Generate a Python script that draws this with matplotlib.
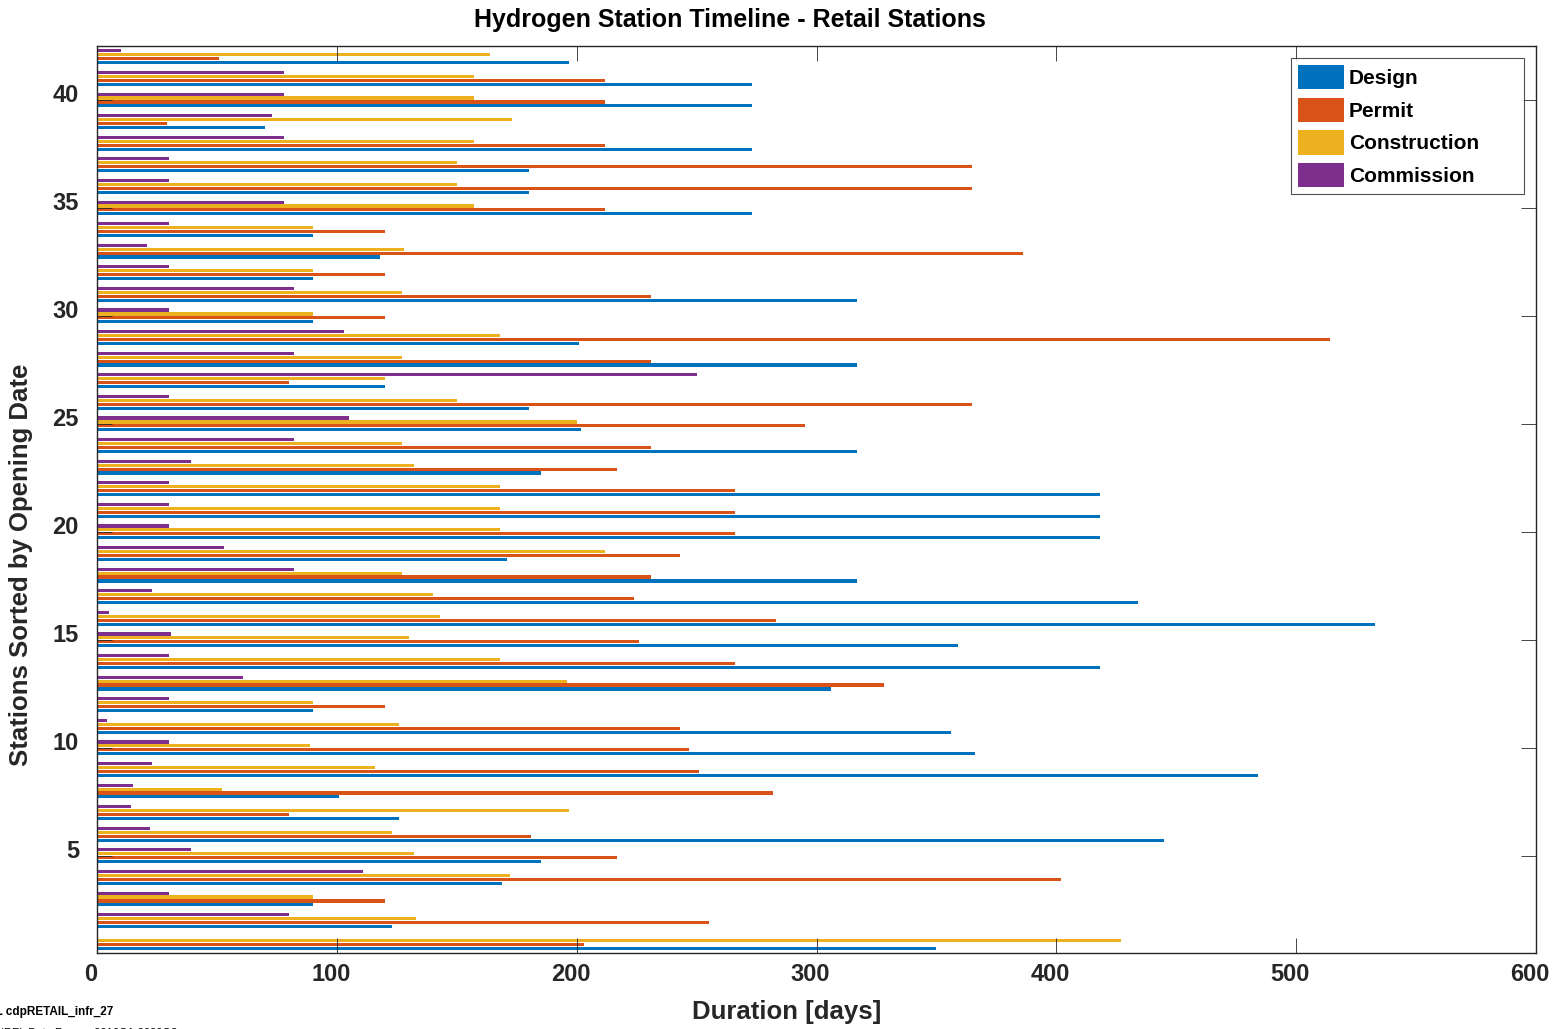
import matplotlib.pyplot as plt
import matplotlib.transforms as mtransforms
import numpy as np

plt.rcParams['font.family'] = ['Liberation Sans', 'DejaVu Sans']

# Duração de cada fase por estação (estação 1 = primeira a abrir)
estacoes = np.arange(1, 43)
design = [350, 123, 90, 169, 185, 445, 126, 101, 484, 366,
          356, 90, 306, 418, 359, 533, 434, 317, 171, 418,
          418, 418, 185, 317, 202, 180, 120, 317, 201, 90,
          317, 90, 118, 90, 273, 180, 180, 273, 70, 273,
          273, 197]
permit = [203, 255, 120, 402, 217, 181, 80, 282, 251, 247,
          243, 120, 328, 266, 226, 283, 224, 231, 243, 266,
          266, 266, 217, 231, 295, 365, 80, 231, 514, 120,
          231, 120, 386, 120, 212, 365, 365, 212, 29, 212,
          212, 51]
construction = [427, 133, 90, 172, 132, 123, 197, 52, 116, 89,
                126, 90, 196, 168, 130, 143, 140, 127, 212, 168,
                168, 168, 132, 127, 200, 150, 120, 127, 168, 90,
                127, 90, 128, 90, 157, 150, 150, 157, 173, 157,
                157, 164]
commission = [0, 80, 30, 111, 39, 22, 14, 15, 23, 30,
              4, 30, 61, 30, 31, 5, 23, 82, 53, 30,
              30, 30, 39, 82, 105, 30, 250, 82, 103, 30,
              82, 30, 21, 30, 78, 30, 30, 78, 73, 78,
              78, 10]

fases = ['Design', 'Permit', 'Construction', 'Commission']
valores = [design, permit, construction, commission]
cores = ['#0072BD', '#D95319', '#EDB120', '#7E2F8E']

fig = plt.figure(figsize=(15.59, 10.29), dpi=100)
ax = fig.add_axes([97 / 1559, 76 / 1029, 1439 / 1559, 907 / 1029])

passo = 0.182
altura = 0.145
for i, (fase, vals, cor) in enumerate(zip(fases, valores, cores)):
    ax.barh(estacoes + (i - 1.5) * passo, vals, height=altura, color=cor,
            label=fase, linewidth=0)

ax.set_xlim(0, 600)
ax.set_ylim(0.5, 42.5)
ax.set_xticks(np.arange(0, 601, 100))
ax.set_yticks(np.arange(5, 41, 5))

cinza = '#262626'
for sp in ax.spines.values():
    sp.set_color(cinza)
    sp.set_linewidth(1.0)
ax.tick_params(direction='in', length=11, width=0.6, color=cinza,
               top=True, right=True, labelsize=17, labelcolor=cinza)
ax.tick_params(axis='x', pad=7)
ax.tick_params(axis='y', pad=13)
for lab in ax.get_xticklabels() + ax.get_yticklabels():
    lab.set_fontweight('bold')
off_y = mtransforms.ScaledTranslation(0, 7 / 100, fig.dpi_scale_trans)
for lab in ax.get_yticklabels():
    lab.set_transform(lab.get_transform() + off_y)
off_x = mtransforms.ScaledTranslation(-6 / 100, 0, fig.dpi_scale_trans)
for lab in ax.get_xticklabels():
    lab.set_transform(lab.get_transform() + off_x)

ax.set_title('Hydrogen Station Timeline - Retail Stations', fontsize=18,
             fontweight='bold', color='black', x=0.44, pad=14)
ax.set_xlabel('Duration [days]', fontsize=18.5, fontweight='bold',
              color=cinza)
ax.xaxis.set_label_coords(0.479, -0.052)
ax.set_ylabel('Stations Sorted by Opening Date', fontsize=18.5,
              fontweight='bold', color=cinza)
ax.yaxis.set_label_coords(-0.0445, 0.428)

leg = ax.legend(loc='upper left', bbox_to_anchor=(0.8297, 0.9868, 0.162, 0),
                mode='expand', borderaxespad=0, fontsize=15, frameon=True,
                fancybox=False, handlelength=2.2, handleheight=1.4,
                handletextpad=0.25, labelspacing=0.42, borderpad=0.33)
leg.get_frame().set_edgecolor(cinza)
leg.get_frame().set_linewidth(0.8)
for t in leg.get_texts():
    t.set_fontweight('bold')

fig.text(113 / 1559, 0.0165, 'NREL cdpRETAIL_infr_27', fontsize=8.5,
         fontweight='bold', ha='right', va='center')
fig.text(177 / 1559, -0.004, 'NREL Data Range: 2016Q1-2020Q3', fontsize=8,
         ha='right', va='center')

fig.savefig('out.png', dpi=100)
